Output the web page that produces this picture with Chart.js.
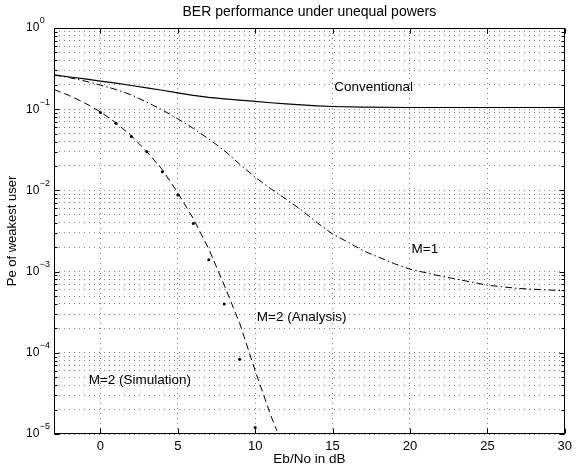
<!DOCTYPE html>
<html>
<head>
<meta charset="utf-8">
<script src="https://cdn.jsdelivr.net/npm/chart.js@4/dist/chart.umd.min.js"></script>
<style>
  html, body { margin: 0; padding: 0; background: #fff; }
  canvas { display: block; }
</style>
</head>
<body>
<canvas id="chart" width="577" height="467"></canvas>
<script>
const chartTitle = 'BER performance under unequal powers';
const xTitle = 'Eb/No in dB';
const yTitle = 'Pe of weakest user';

// x tick labels and y decades (10^exp)
const xTicks = [0, 5, 10, 15, 20, 25, 30];
const yTickExps = [0, -1, -2, -3, -4, -5];

// conventional detector (solid)
const snrConv = [-3, -2, -1, 0, 1, 2, 3, 4, 5, 6, 7, 8, 9, 10, 11, 12, 13, 14, 15, 17, 20, 25, 30];
const peConv = [0.264, 0.249, 0.236, 0.222, 0.209, 0.196, 0.183, 0.171, 0.159, 0.148, 0.140, 0.134, 0.129, 0.125, 0.120, 0.116, 0.113, 0.110, 0.108, 0.106, 0.105, 0.105, 0.105];

// M=1 (dash-dot)
const snrM1 = [-3, -2, -1, 0, 1, 2, 3, 4, 5, 6, 7, 8, 9, 10, 11, 12, 13, 14, 15, 16, 17, 18, 19, 20, 22, 25, 27, 30];
const peM1 = [0.264, 0.245, 0.222, 0.198, 0.175, 0.150, 0.122, 0.098, 0.076, 0.058, 0.043, 0.031, 0.021, 0.0145, 0.0105, 0.0078, 0.0057, 0.0040, 0.0029, 0.0023, 0.0018, 0.0015, 0.00125, 0.00107, 0.00088, 0.00068, 0.00062, 0.00058];

// M=2 analysis (dashed)
const snrAna = [-3, -2, -1, 0, 1, 2, 3, 4, 5, 6, 7, 8, 9, 10, 11, 11.4];
const peAna = [0.175, 0.147, 0.119, 0.093, 0.068, 0.047, 0.030, 0.018, 0.0093, 0.0045, 0.0019, 0.00068, 0.00023, 0.00006, 0.000017, 0.000011];

// M=2 simulation (dots)
const snrSim = [0, 1, 2, 3, 4, 5, 6, 7, 8, 9, 10];
const peSim = [0.091, 0.067, 0.046, 0.030, 0.017, 0.0088, 0.0039, 0.0014, 0.0004, 0.000083, 0.000012];

// curve labels, placed in data units
const curveLabels = [
    {text: 'Conventional', x: 15.1, y: 0.188},
    {text: 'M=1', x: 20.1, y: 0.0019},
    {text: 'M=2 (Analysis)', x: 10.1, y: 0.000276},
    {text: 'M=2 (Simulation)', x: -0.76, y: 0.000046}
];

const FONT = '"Liberation Sans", Arial, Helvetica, sans-serif';
Chart.defaults.font.family = FONT;
Chart.defaults.color = '#000';

const toPoints = (xs, ys) => xs.map((x, i) => ({x: x, y: ys[i]}));

// every decade plus 2..9 minor lines
const yGrid = [];
yTickExps.forEach(e => {
    if (e === 0) { yGrid.push(1); return; }
    for (let m = 1; m <= 9; m++) yGrid.push(m * Math.pow(10, e));
});

const gridColor = 'rgba(0,0,0,0.5)';

const matlabAxes = {
    id: 'matlabAxes',
    afterDatasetsDraw(chart) {
        const {ctx, chartArea: a, scales: {x, y}} = chart;
        const L = Math.round(a.left) + 0.5, R = Math.round(a.right) - 0.5;
        const T = Math.round(a.top) + 0.5, B = Math.round(a.bottom) - 0.5;
        ctx.save();
        ctx.strokeStyle = '#000';
        ctx.lineWidth = 1;
        ctx.beginPath();
        xTicks.forEach(v => {
            const px = Math.round(x.getPixelForValue(v)) + 0.5;
            ctx.moveTo(px, B); ctx.lineTo(px, B - 5);
            ctx.moveTo(px, T); ctx.lineTo(px, T + 5);
        });
        yGrid.forEach(v => {
            const py = Math.round(y.getPixelForValue(v)) + 0.5;
            const major = Math.abs(Math.log10(v) - Math.round(Math.log10(v))) < 1e-9;
            const len = major ? 5 : 3;
            ctx.moveTo(L, py); ctx.lineTo(L + len, py);
            ctx.moveTo(R, py); ctx.lineTo(R - len, py);
        });
        ctx.stroke();
        ctx.strokeRect(L, T, R - L, B - T);

        ctx.fillStyle = '#000';

        // title, centred over the axes box
        ctx.textAlign = 'center';
        ctx.textBaseline = 'middle';
        ctx.font = '14px ' + FONT;
        ctx.fillText(chartTitle, (a.left + a.right) / 2, 12);

        // y tick labels 10^n
        ctx.textAlign = 'left';
        yTickExps.forEach(e => {
            const py = y.getPixelForValue(Math.pow(10, e));
            const lx = a.left - 28;
            ctx.font = '12px ' + FONT;
            ctx.fillText('10', lx, py);
            const w = ctx.measureText('10').width;
            ctx.font = '9px ' + FONT;
            ctx.fillText(e === 0 ? '0' : '\u2212' + (-e), lx + w + 0.5, py - 7);
        });

        // curve labels
        ctx.font = '13.5px ' + FONT;
        curveLabels.forEach(l => {
            ctx.fillText(l.text, x.getPixelForValue(l.x), y.getPixelForValue(l.y));
        });
        ctx.restore();
    }
};

new Chart(document.getElementById('chart').getContext('2d'), {
    type: 'line',
    data: {
        datasets: [
            {
                label: 'Conventional',
                data: toPoints(snrConv, peConv),
                borderColor: '#000',
                borderWidth: 1.2,
                pointRadius: 0,
                tension: 0
            },
            {
                label: 'M=1',
                data: toPoints(snrM1, peM1),
                borderColor: '#000',
                borderWidth: 1,
                borderDash: [7, 3, 1.5, 3],
                pointRadius: 0,
                tension: 0
            },
            {
                label: 'M=2 (Analysis)',
                data: toPoints(snrAna, peAna),
                borderColor: '#000',
                borderWidth: 1,
                borderDash: [7, 4],
                pointRadius: 0,
                tension: 0
            },
            {
                label: 'M=2 (Simulation)',
                data: toPoints(snrSim, peSim),
                showLine: false,
                pointRadius: 1.5,
                pointBackgroundColor: '#000',
                pointBorderColor: '#000',
                pointBorderWidth: 0
            }
        ]
    },
    options: {
        responsive: false,
        animation: false,
        devicePixelRatio: 1,
        layout: {padding: {left: 0, right: 8, top: 28, bottom: 0}},
        plugins: {
            legend: {display: false},
            tooltip: {enabled: false},
            title: {display: false}
        },
        scales: {
            x: {
                type: 'linear',
                min: -3,
                max: 30,
                afterBuildTicks: s => { s.ticks = xTicks.map(v => ({value: v})); },
                afterFit: s => { s.height = 33; },
                ticks: {
                    autoSkip: false,
                    maxRotation: 0,
                    padding: 5,
                    font: {size: 13},
                    callback: v => String(v)
                },
                grid: {color: gridColor, lineWidth: 1, drawTicks: false},
                border: {display: false, dash: [1, 4]},
                title: {display: true, text: xTitle, font: {size: 13.5}, padding: {top: 0, bottom: 0}}
            },
            y: {
                type: 'logarithmic',
                min: 1e-5,
                max: 1,
                afterBuildTicks: s => { s.ticks = yGrid.map(v => ({value: v})); },
                afterFit: s => { s.width = 54; },
                ticks: {display: false},
                grid: {color: gridColor, lineWidth: 1, drawTicks: false},
                border: {display: false, dash: [1, 4]},
                title: {display: true, text: yTitle, font: {size: 13}, padding: {top: 5, bottom: 0}}
            }
        }
    },
    plugins: [matlabAxes]
});
</script>
</body>
</html>
